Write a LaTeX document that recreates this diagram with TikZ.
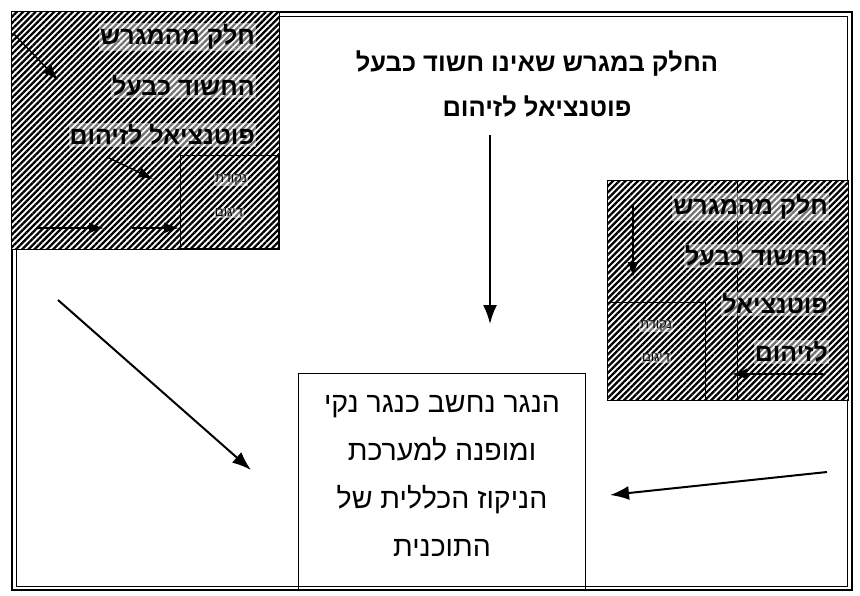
\documentclass[tikz,border=0pt]{standalone}
\usepackage{fontspec}
\setmainfont{Liberation Sans}
\newfontfamily\heb[Script=Hebrew]{Liberation Sans}
\TeXXeTstate=1
\usetikzlibrary{arrows.meta,patterns.meta}
\newcommand{\rtl}[1]{\beginR #1\endR}
\tikzset{
  frame/.style={draw, line width=2.2pt},
  hatchbox/.style={draw, line width=1.2pt, inner sep=0pt, anchor=north west,
    preaction={fill=white},
    pattern={Lines[angle=45,distance=4.4pt,line width=2.3pt]}},
  subbox/.style={draw, line width=0.8pt, inner sep=0pt, anchor=north west},
  hebbox/.style={font=\heb\bfseries\fontsize{25}{30}\selectfont, inner sep=1pt, fill=white, fill opacity=0.45, text opacity=1},
  hebsmall/.style={font=\heb\fontsize{13}{15}\selectfont, inner sep=1pt, fill=white, fill opacity=0.45, text opacity=1},
  hebtext/.style={font=\heb\fontsize{28.5}{48}\selectfont, align=center},
  bigarrow/.style={line width=2pt, -{Latex[length=19pt,width=14pt]}},
  smallarrow/.style={line width=1.4pt, -{Latex[length=15pt,width=11pt]}}
}
\begin{document}
\begin{tikzpicture}[x=1pt,y=-1pt]
\useasboundingbox (0,0) rectangle (860,595);
\fill[white] (0,0) rectangle (860,595);
% outer frame
\draw[frame] (12,12) rectangle (852,590);
\draw[line width=0.4pt] (16,16) rectangle (847,586);

% central box
\node[draw, line width=1.2pt, anchor=north west, minimum width=287pt, minimum height=217pt, inner sep=0pt] (cbox) at (298,373) {};
\node[hebtext] (ctext) at (442,476) {\rtl{הנגר נחשב כנגר נקי}\\ \rtl{ומופנה למערכת}\\ \rtl{הניקוז הכללית של}\\ \rtl{התוכנית}};

% top text
\node[align=center, inner sep=0pt, font=\heb\bfseries\fontsize{25.5}{45}\selectfont] (ttext) at (537,84) {\rtl{החלק במגרש שאינו חשוד כבעל}\\ \rtl{פוטנציאל לזיהום}};

% left hatched box
\node[hatchbox, minimum width=268pt, minimum height=238pt] (lbox) at (10,10) {};
\node[subbox, minimum width=98pt, minimum height=93pt] (lsub) at (180,155) {};
\node[hebbox, anchor=east] (lt1) at (256,37) {\rtl{חלק מהמגרש}};
\node[hebbox, anchor=east] (lt2) at (256,86) {\rtl{החשוד כבעל}};
\node[hebbox, anchor=east] (lt3) at (256,135) {\rtl{פוטנציאל לזיהום}};
\node[hebsmall] (ls1) at (231,180) {\rtl{נקודת}};
\node[hebsmall] (ls2) at (229,213) {\rtl{דיגום}};
\coordinate (la1s) at (13,33);  \coordinate (la1e) at (58,80);
\coordinate (la2s) at (107,157); \coordinate (la2e) at (153,179);
\coordinate (la3s) at (37,228);  \coordinate (la3e) at (104,228);
\coordinate (la4s) at (132,228); \coordinate (la4e) at (179,228);
\draw[smallarrow] (la1s) -- (la1e);
\draw[smallarrow] (la2s) -- (la2e);
\draw[smallarrow] (la3s) -- (la3e);
\draw[smallarrow] (la4s) -- (la4e);

% right hatched box
\node[hatchbox, minimum width=241pt, minimum height=220pt] (rbox) at (607,180) {};
\node[subbox, minimum width=98pt, minimum height=98pt] (rsub) at (607,302) {};
\draw[line width=0.4pt] (737,182) -- (737,398);
\node[hebbox, anchor=east] (rt1) at (829,207) {\rtl{חלק מהמגרש}};
\node[hebbox, anchor=east] (rt2) at (829,256) {\rtl{החשוד כבעל}};
\node[hebbox, anchor=east] (rt3) at (829,304) {\rtl{פוטנציאל}};
\node[hebbox, anchor=east] (rt4) at (829,352) {\rtl{לזיהום}};
\node[hebsmall] (rs1) at (656,326) {\rtl{נקודת}};
\node[hebsmall] (rs2) at (656,358) {\rtl{דיגום}};
\coordinate (ra1s) at (633,205); \coordinate (ra1e) at (633,277);
\coordinate (ra2s) at (823,374); \coordinate (ra2e) at (732,374);
\draw[smallarrow] (ra1s) -- (ra1e);
\draw[smallarrow] (ra2s) -- (ra2e);

% main arrows
\coordinate (m1s) at (490,135); \coordinate (m1e) at (490,324);
\coordinate (m2s) at (58,300);  \coordinate (m2e) at (251,470);
\coordinate (m3s) at (827,472); \coordinate (m3e) at (610,495);
\draw[bigarrow] (m1s) -- (m1e);
\draw[bigarrow] (m2s) -- (m2e);
\draw[bigarrow] (m3s) -- (m3e);
\end{tikzpicture}
\end{document}
